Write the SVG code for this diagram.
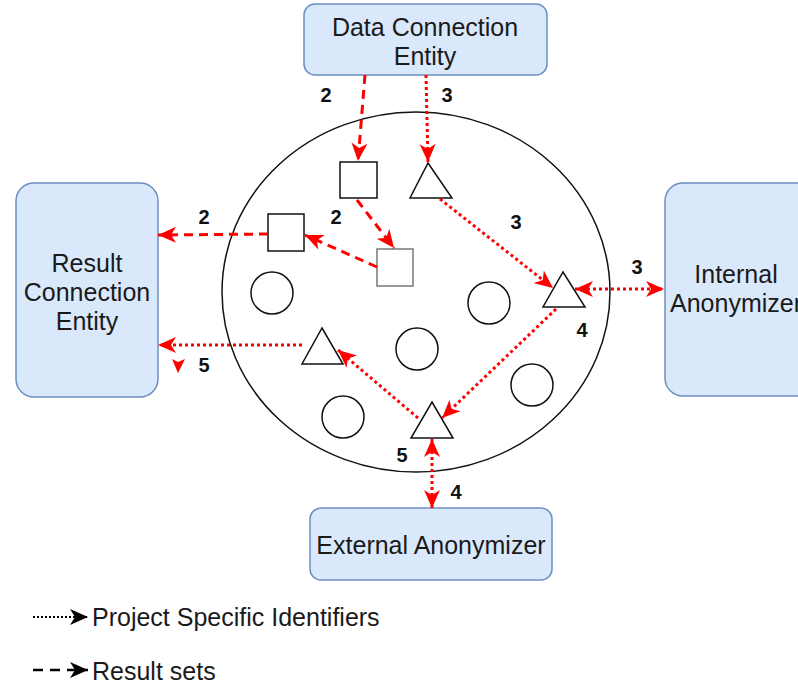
<svg xmlns="http://www.w3.org/2000/svg" width="798" height="685" viewBox="0 0 798 685">
<defs>
<style>
.box{fill:#dae8fc;stroke:#6c8ebf;stroke-width:1.5}
.lbl{font-family:"Liberation Sans",Arial,sans-serif;font-size:25px;fill:#1a1a1a;text-anchor:middle}
.num{font-family:"Liberation Sans",Arial,sans-serif;font-size:20px;font-weight:bold;fill:#111;text-anchor:middle}
.shape{fill:#fff;stroke:#111;stroke-width:1.5}
.dash{fill:none;stroke:#ff0000;stroke-width:3;stroke-dasharray:9 6}
.dot{fill:none;stroke:#ff0000;stroke-width:3;stroke-dasharray:3 3}
</style>
<marker id="ar" markerUnits="userSpaceOnUse" markerWidth="20" markerHeight="18" refX="18" refY="9" orient="auto-start-reverse">
<path d="M0,1 L18,9 L0,17 L5,9 Z" fill="#ff0000"/>
</marker>
<marker id="ak" markerUnits="userSpaceOnUse" markerWidth="20" markerHeight="18" refX="18" refY="9" orient="auto">
<path d="M0,1 L18,9 L0,17 L5,9 Z" fill="#000"/>
</marker>
</defs>
<rect width="798" height="685" fill="#fff"/>

<g id="pool">
<ellipse cx="416" cy="292" rx="194" ry="180" fill="none" stroke="#111" stroke-width="1.5"/>
</g>

<g id="data-connection-entity">
<rect class="box" x="304" y="4" width="243" height="71" rx="11"/>
<text class="lbl" x="425" y="36">Data Connection</text>
<text class="lbl" x="425" y="65">Entity</text>
</g>
<g id="result-connection-entity">
<rect class="box" x="16" y="183" width="142" height="214" rx="18"/>
<text class="lbl" x="87" y="272">Result</text>
<text class="lbl" x="87" y="301">Connection</text>
<text class="lbl" x="87" y="330">Entity</text>
</g>
<g id="internal-anonymizer">
<rect class="box" x="665" y="183" width="150" height="213" rx="18"/>
<text class="lbl" x="736" y="283">Internal</text>
<text class="lbl" x="736" y="312">Anonymizer</text>
</g>
<g id="external-anonymizer">
<rect class="box" x="310" y="508" width="242" height="72" rx="11"/>
<text class="lbl" x="431" y="554">External Anonymizer</text>
</g>

<g id="square-a"><rect class="shape" x="340" y="162" width="37" height="36"/></g>
<g id="square-b"><rect class="shape" x="268" y="214" width="36" height="37" stroke="#333"/></g>
<g id="square-c"><rect class="shape" x="377" y="249" width="36" height="37" style="stroke:#777"/></g>

<g id="triangle-1"><polygon class="shape" points="428,163 452,198 410,198"/></g>
<g id="triangle-2"><polygon class="shape" points="563,272 585,307 543,307"/></g>
<g id="triangle-3"><polygon class="shape" points="432,402 453,438 411,438"/></g>
<g id="triangle-4"><polygon class="shape" points="322,328 343,364 302,364"/></g>

<g id="circle-1"><circle class="shape" cx="272" cy="293" r="21"/></g>
<g id="circle-2"><circle class="shape" cx="489" cy="303" r="21"/></g>
<g id="circle-3"><circle class="shape" cx="417" cy="349" r="21"/></g>
<g id="circle-4"><circle class="shape" cx="532" cy="385" r="21"/></g>
<g id="circle-5"><circle class="shape" cx="343" cy="417" r="21"/></g>

<g id="connectors">
<path class="dash" d="M365,75 L358,161" marker-end="url(#ar)"/>
<path class="dot" d="M426,75 L428,162" marker-end="url(#ar)"/>
<path class="dash" d="M357,200 L394,248" marker-end="url(#ar)"/>
<path class="dash" d="M377,267 L305,235" marker-end="url(#ar)"/>
<path class="dash" d="M268,234 L158,235" marker-end="url(#ar)"/>
<path class="dot" d="M440,199 L553,288" marker-end="url(#ar)"/>
<path class="dot" d="M575,289 L664,289" marker-start="url(#ar)" marker-end="url(#ar)"/>
<path class="dot" d="M556,309 L442,418" marker-end="url(#ar)"/>
<path class="dot" d="M432,439 L432,508" marker-start="url(#ar)" marker-end="url(#ar)"/>
<path class="dot" d="M418,418 L338,350" marker-end="url(#ar)"/>
<path class="dot" d="M302,345 L158,345" marker-end="url(#ar)"/>
<path d="M172,359 L178,362 L185,359 L178,373 Z" fill="#ff0000"/>
</g>

<g id="labels">
<text class="num" x="326" y="102">2</text>
<text class="num" x="447" y="102">3</text>
<text class="num" x="336" y="224">2</text>
<text class="num" x="204" y="224">2</text>
<text class="num" x="516" y="229">3</text>
<text class="num" x="637" y="274">3</text>
<text class="num" x="582" y="337">4</text>
<text class="num" x="402" y="462">5</text>
<text class="num" x="456" y="499">4</text>
<text class="num" x="204" y="372">5</text>
</g>

<g id="legend">
<path d="M33,617 L88,617" fill="none" stroke="#000" stroke-width="2" stroke-dasharray="2 2" marker-end="url(#ak)"/>
<text class="lbl" x="92" y="626" style="text-anchor:start">Project Specific Identifiers</text>
<path d="M33,670 L88,670" fill="none" stroke="#000" stroke-width="2.5" stroke-dasharray="10 7" marker-end="url(#ak)"/>
<text class="lbl" x="92" y="680" style="text-anchor:start">Result sets</text>
</g>
</svg>
